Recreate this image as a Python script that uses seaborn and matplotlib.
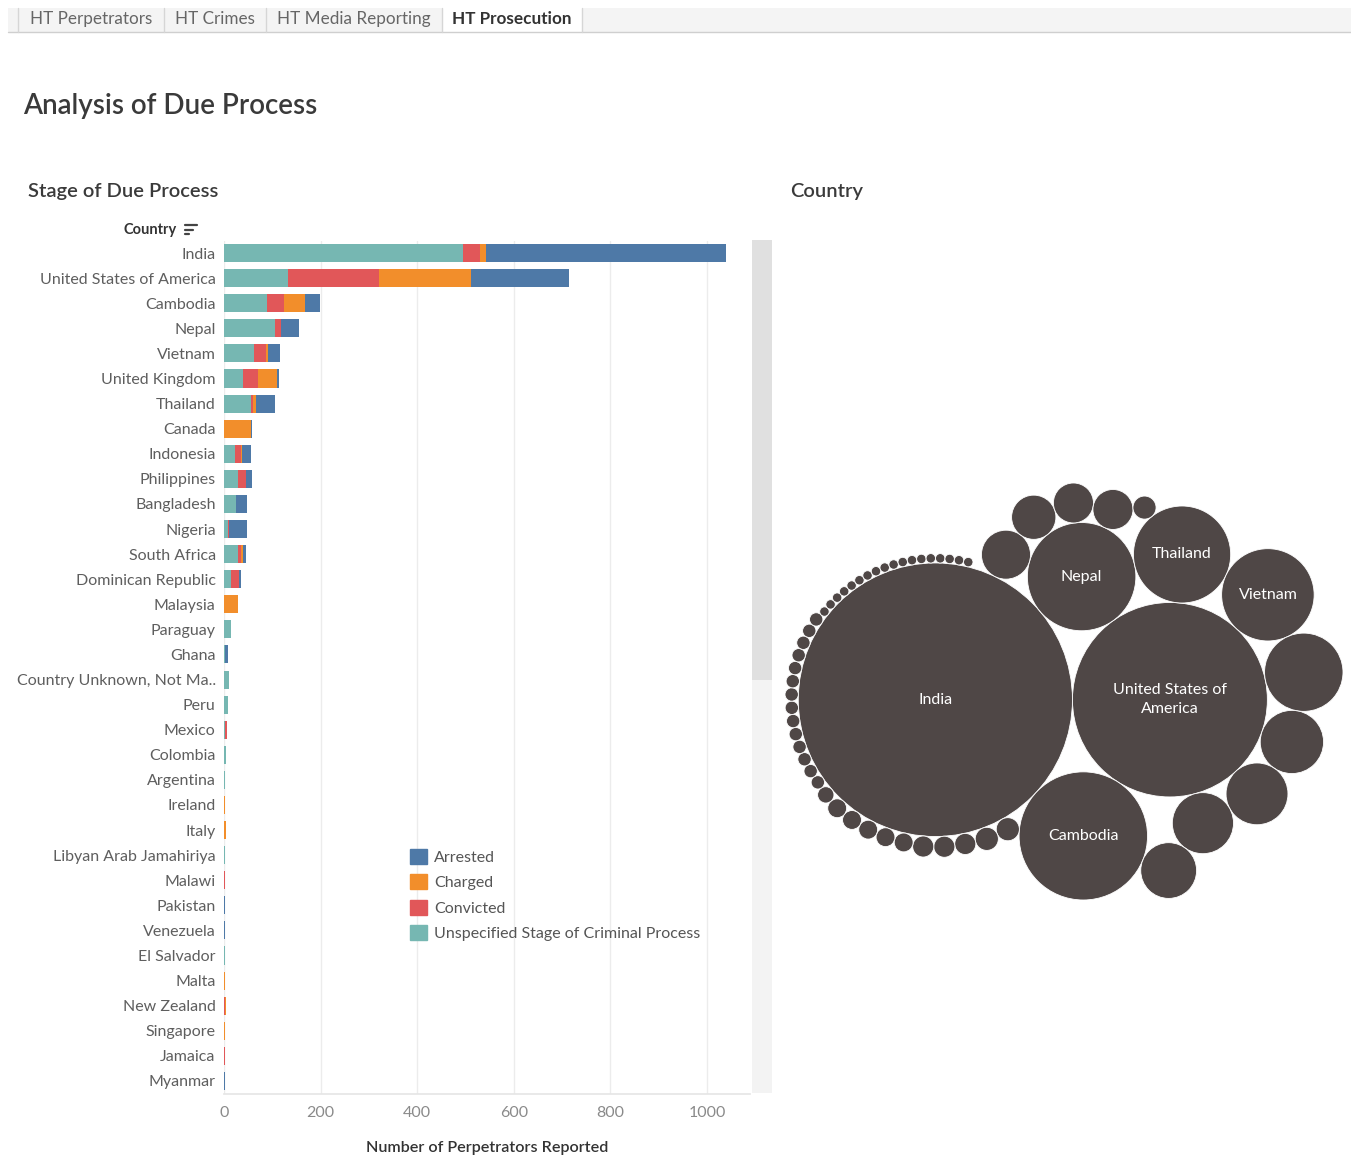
import textwrap
import numpy as np
import pandas as pd
import seaborn as sns
import matplotlib.pyplot as plt
from matplotlib.patches import Circle, Rectangle, Patch
from matplotlib.lines import Line2D

# ---- bar chart data ----
countries = ["India", "United States of America", "Cambodia", "Nepal", "Vietnam",
             "United Kingdom", "Thailand", "Canada", "Indonesia", "Philippines",
             "Bangladesh", "Nigeria", "South Africa", "Dominican Republic", "Malaysia",
             "Paraguay", "Ghana", "Country Unknown, Not Ma..", "Peru", "Mexico",
             "Colombia", "Argentina", "Ireland", "Italy", "Libyan Arab Jamahiriya",
             "Malawi", "Pakistan", "Venezuela", "El Salvador", "Malta",
             "New Zealand", "Singapore", "Jamaica", "Myanmar"]
unspecified = [494, 133, 90, 105, 63, 40, 55, 1, 23, 28, 25, 8, 28, 15, 0,
               15, 3, 10, 8, 3, 5, 3, 0, 0, 3, 0, 0, 0, 3, 0, 0, 0, 0, 0]
convicted = [37, 187, 35, 13, 24, 31, 6, 0, 13, 17, 0, 3, 7, 17, 0,
             0, 0, 0, 0, 3, 0, 0, 0, 0, 0, 3, 0, 0, 0, 0, 3, 0, 3, 0]
charged = [12, 192, 42, 0, 5, 39, 5, 55, 1, 0, 0, 0, 5, 0, 28,
           0, 0, 0, 0, 0, 0, 0, 3, 4, 0, 0, 0, 0, 0, 3, 2, 3, 0, 0]
arrested = [497, 203, 31, 38, 24, 3, 40, 2, 19, 12, 23, 37, 5, 4, 2,
            0, 6, 0, 0, 1, 0, 0, 0, 1, 0, 0, 3, 3, 0, 0, 0, 0, 0, 3]

stage_names = ["Arrested", "Charged", "Convicted",
               "Unspecified Stage of Criminal Process"]
stage_colors = ["#4e79a7", "#f28e2b", "#e15759", "#76b7b2"]
x_ticks = [0, 200, 400, 600, 800, 1000]

# ---- packed bubble data (relative bubble sizes) ----
bubble_labels = ["India", "United States of America", "Cambodia", "Nepal",
                 "Thailand", "Vietnam"]
bubble_values = [843, 426, 185, 132, 106, 96, 69, 45, 43, 42, 35, 27, 22, 18, 18, 6,
                 6, 6, 5, 5, 5, 4, 4, 4, 4, 4, 3,
                 2, 2, 2, 2, 2, 2, 2, 2, 2, 2, 2, 2, 2, 2,
                 1, 1, 1, 1, 1, 1, 1, 1, 1, 1, 1, 1, 1, 1, 1, 1, 1, 1]

tabs = ["HT Perpetrators", "HT Crimes", "HT Media Reporting", "HT Prosecution"]

W, H = 1351, 1155


def fx(px):
    return px / W


def fy(py):
    return 1 - py / H


def pack_bubbles(radii):
    # front-chain circle packing, spiralling round one anchor circle at a time
    r = np.asarray(radii, float)
    n = len(r)
    x = np.zeros(n)
    y = np.zeros(n)

    def place(p, q, c):
        dx, dy = x[p] - x[q], y[p] - y[q]
        d2 = dx * dx + dy * dy
        a2 = (r[q] + r[c]) ** 2
        b2 = (r[p] + r[c]) ** 2
        if a2 > b2:
            t = (d2 + b2 - a2) / (2 * d2)
            h = np.sqrt(max(0.0, b2 / d2 - t * t))
            x[c] = x[p] - t * dx - h * dy
            y[c] = y[p] - t * dy + h * dx
        else:
            t = (d2 + a2 - b2) / (2 * d2)
            h = np.sqrt(max(0.0, a2 / d2 - t * t))
            x[c] = x[q] + t * dx - h * dy
            y[c] = y[q] + t * dy + h * dx

    def hits(i, j):
        dr = r[i] + r[j] - 1e-6
        return dr > 0 and dr * dr > (x[i] - x[j]) ** 2 + (y[i] - y[j]) ** 2

    x[0], x[1] = -r[1], r[0]
    place(1, 0, 2)
    nxt = {0: 1, 1: 2, 2: 0}
    prv = {1: 0, 2: 1, 0: 2}
    ox, oy = r[0] - r[1], 0.0

    def score(k):
        p = prv[k]
        s = r[p] + r[k]
        cx = (x[p] * r[k] + x[k] * r[p]) / s
        cy = (y[p] * r[k] + y[k] * r[p]) / s
        return (cx - ox) ** 2 + (cy - oy) ** 2

    anchor, last = 1, 0
    for i in range(3, n):
        if anchor is None:
            anchor = min(nxt.keys(), key=score)
            last = prv[anchor]
        a, b = last, anchor
        while True:
            place(a, b, i)
            j, k = nxt[b], prv[a]
            sj, sk = r[b], r[a]
            found = None
            while True:
                if sj <= sk:
                    if hits(j, i):
                        found = ("ahead", j)
                        break
                    sj += r[j]
                    j = nxt[j]
                else:
                    if hits(k, i):
                        found = ("behind", k)
                        break
                    sk += r[k]
                    k = prv[k]
                if j == nxt[k]:
                    break
            if found is None:
                break
            side, m = found
            if side == "ahead":
                node = nxt[a]
                while node != m:
                    nn = nxt[node]
                    del nxt[node], prv[node]
                    node = nn
                nxt[a], prv[m] = m, a
                b = m
            else:
                node = nxt[m]
                while node != b:
                    nn = nxt[node]
                    del nxt[node], prv[node]
                    node = nn
                nxt[m], prv[b] = b, m
                a = m
        nxt[a], prv[i], nxt[i], prv[b] = i, a, b, i
        last = i
        if anchor not in nxt:
            anchor = None
    return x, y, r


sns.set_theme(style="white")
plt.rcParams["font.family"] = ["Lato", "DejaVu Sans"]

fig = plt.figure(figsize=(W / 100, H / 100), dpi=100)

# ---- tab strip ----
fig.add_artist(Rectangle((fx(8), fy(32)), fx(1351) - fx(8), 24 / H,
                         transform=fig.transFigure, fc="#f4f4f4", ec="none"))
fig.add_artist(Line2D([fx(8), fx(1351)], [fy(31.5), fy(31.5)],
                      transform=fig.transFigure, color="#cfcfcf", lw=1))
tab_edges = [18, 164, 266, 442, 582]
for t, (l, rr) in enumerate(zip(tab_edges[:-1], tab_edges[1:])):
    active = t == len(tabs) - 1
    if active:
        fig.add_artist(Rectangle((fx(l), fy(32)), fx(rr) - fx(l), 25 / H,
                                 transform=fig.transFigure, fc="white", ec="none"))
    fig.text(fx((l + rr) / 2), fy(19), tabs[t], ha="center", va="center",
             fontsize=12.3, color="#333333" if active else "#666666",
             fontweight="bold" if active else "normal")
for e in tab_edges:
    fig.add_artist(Line2D([fx(e), fx(e)], [fy(8), fy(31.5)],
                          transform=fig.transFigure, color="#d6d6d6", lw=1))

# ---- titles ----
fig.text(fx(23), fy(106), "Analysis of Due Process", fontsize=20,
         color="#3a3a3a", va="center", fontweight="semibold")
fig.text(fx(28), fy(191), "Stage of Due Process", fontsize=14.5,
         color="#3a3a3a", va="center", fontweight="semibold")
fig.text(fx(790), fy(191), "Country", fontsize=14.5, color="#3a3a3a",
         va="center", fontweight="semibold")
fig.text(fx(123), fy(230), "Country", fontsize=10.5, color="#333333",
         fontweight="bold", va="center")
for yy, ln in zip([225, 229.5, 234], [12, 8, 4]):
    fig.add_artist(Line2D([fx(185), fx(185 + ln)], [fy(yy), fy(yy)],
                          transform=fig.transFigure, color="#444444", lw=1.6))

# ---- stacked bar chart ----
df = pd.DataFrame({"Country": countries})
df["c1"] = np.array(unspecified)
df["c2"] = df["c1"] + np.array(convicted)
df["c3"] = df["c2"] + np.array(charged)
df["c4"] = df["c3"] + np.array(arrested)

ax = fig.add_axes([fx(224), fy(1093.5), fx(750) - fx(224), (1093.5 - 240.5) / H])
for col, color in zip(["c4", "c3", "c2", "c1"], stage_colors):
    sns.barplot(data=df, x=col, y="Country", order=countries, color=color,
                orient="h", width=0.72, saturation=1, errorbar=None,
                linewidth=0, edgecolor="none", ax=ax)
ax.set_xlim(0, 1089)
ax.set_ylim(len(countries) - 0.5, -0.5)
ax.set_xticks(x_ticks)
ax.grid(axis="x", color="#ececec", lw=1)
ax.set_axisbelow(True)
for s in ["top", "right", "left"]:
    ax.spines[s].set_visible(False)
ax.spines["bottom"].set_color("#e6e6e6")
ax.tick_params(axis="x", colors="#8a8a8a", labelsize=11.5, length=0, pad=9)
ax.tick_params(axis="y", colors="#5e5e5e", labelsize=11.5, length=0, pad=6)
ax.set_ylabel("")
ax.set_xlabel("Number of Perpetrators Reported", fontsize=11.6, color="#333333",
              labelpad=15, fontweight="semibold")

handles = [Patch(color=c, label=nm) for nm, c in zip(stage_names, stage_colors)]
ax.legend(handles=handles, loc="upper left", bbox_to_anchor=(fx(410), fy(849)),
          bbox_transform=fig.transFigure, frameon=False, fontsize=11.5,
          labelcolor="#555555", handlelength=1.05, handleheight=1.05,
          handletextpad=0.45, labelspacing=0.6, borderpad=0, borderaxespad=0)

# scrollbar
fig.add_artist(Rectangle((fx(752), fy(1093)), fx(772) - fx(752), (1093 - 240) / H,
                         transform=fig.transFigure, fc="#f3f3f3", ec="none"))
fig.add_artist(Rectangle((fx(752), fy(680)), fx(772) - fx(752), (680 - 240) / H,
                         transform=fig.transFigure, fc="#e0e0e0", ec="none"))

# ---- packed bubbles ----
bx_, by_, br_ = pack_bubbles(np.sqrt(bubble_values))
bax = fig.add_axes([fx(785), fy(900), fx(1343) - fx(785), (900 - 483) / H])
for k in range(len(bubble_values)):
    bax.add_patch(Circle((bx_[k], by_[k]), br_[k], fc="#4f4746", ec="white", lw=0.6))
    if k < len(bubble_labels):
        bax.text(bx_[k], by_[k], textwrap.fill(bubble_labels[k], 16), color="white",
                 ha="center", va="center", fontsize=11.5, linespacing=1.5)
bax.set_xlim((bx_ - br_).min(), (bx_ + br_).max())
bax.set_ylim((by_ + br_).max(), (by_ - br_).min())
bax.set_aspect("equal", adjustable="datalim")
bax.axis("off")

fig.savefig("out.png", dpi=100)
